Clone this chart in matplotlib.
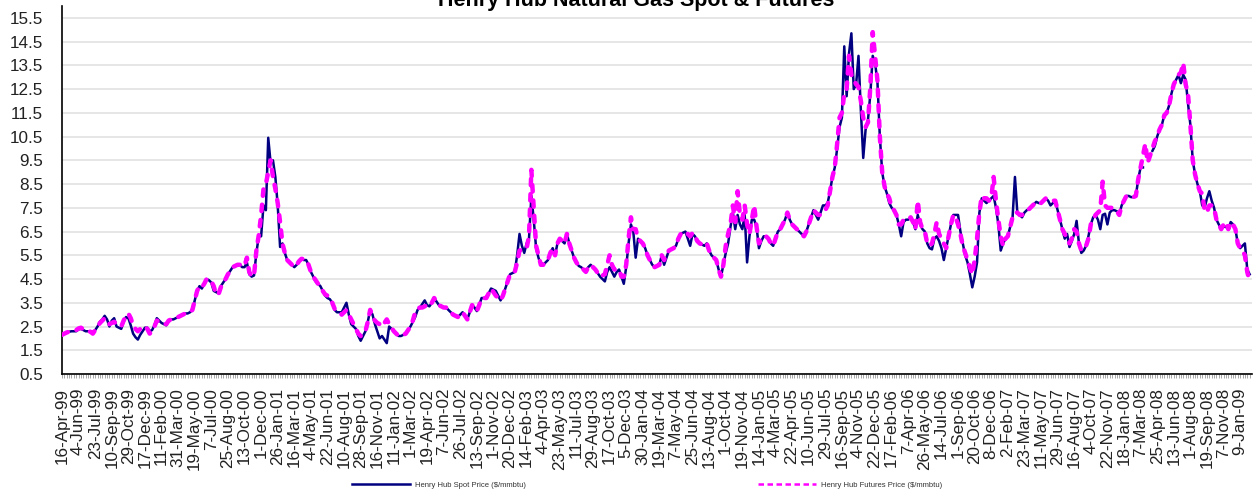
import numpy as np
import matplotlib
matplotlib.use('Agg')
import matplotlib.pyplot as plt
from matplotlib.lines import Line2D

plt.rcParams['font.family'] = ['Liberation Sans', 'DejaVu Sans']

# category labels, one shown every 7 weeks
week_labels = ['16-Apr-99', '4-Jun-99', '23-Jul-99', '10-Sep-99', '29-Oct-99', '17-Dec-99',
               '11-Feb-00', '31-Mar-00', '19-May-00', '7-Jul-00', '25-Aug-00', '13-Oct-00', '1-Dec-00',
               '26-Jan-01', '16-Mar-01', '4-May-01', '22-Jun-01', '10-Aug-01', '28-Sep-01', '16-Nov-01',
               '11-Jan-02', '1-Mar-02', '19-Apr-02', '7-Jun-02', '26-Jul-02', '13-Sep-02', '1-Nov-02', '20-Dec-02',
               '14-Feb-03', '4-Apr-03', '23-May-03', '11-Jul-03', '29-Aug-03', '17-Oct-03', '5-Dec-03',
               '30-Jan-04', '19-Mar-04', '7-May-04', '25-Jun-04', '13-Aug-04', '1-Oct-04', '19-Nov-04',
               '14-Jan-05', '4-Mar-05', '22-Apr-05', '10-Jun-05', '29-Jul-05', '16-Sep-05', '4-Nov-05', '22-Dec-05',
               '17-Feb-06', '7-Apr-06', '26-May-06', '14-Jul-06', '1-Sep-06', '20-Oct-06', '8-Dec-06',
               '2-Feb-07', '23-Mar-07', '11-May-07', '29-Jun-07', '16-Aug-07', '4-Oct-07', '22-Nov-07',
               '18-Jan-08', '7-Mar-08', '25-Apr-08', '13-Jun-08', '1-Aug-08', '19-Sep-08', '7-Nov-08',
               '9-Jan-09']
label_step = 7

# weekly Henry Hub spot price ($/mmbtu), one row per labelled 7-week block
spot = [
    2.15, 2.2, 2.25, 2.28, 2.3, 2.3, 2.3,
    2.38, 2.4, 2.35, 2.3, 2.3, 2.3, 2.22,
    2.35, 2.5, 2.7, 2.8, 2.95, 2.8, 2.5,
    2.75, 2.85, 2.5, 2.45, 2.4, 2.7, 2.9,
    2.85, 2.55, 2.2, 2.05, 1.95, 2.15, 2.3,
    2.45, 2.45, 2.3, 2.35, 2.55, 2.85, 2.75,
    2.65, 2.6, 2.55, 2.75, 2.8, 2.8, 2.85,
    2.9, 2.95, 3.0, 3.05, 3.05, 3.1, 3.2,
    3.6, 4.0, 4.2, 4.1, 4.3, 4.5, 4.45,
    4.35, 4.0, 3.95, 3.9, 4.2, 4.35, 4.5,
    4.7, 4.85, 5.0, 5.05, 5.1, 5.1, 5.0,
    5.0, 5.2, 4.7, 4.6, 4.65, 5.6, 6.3,
    6.3, 7.6, 7.4, 10.45, 9.4, 9.5, 8.8,
    7.6, 5.85, 6.0, 5.6, 5.3, 5.2, 5.1,
    5.0, 5.1, 5.25, 5.35, 5.3, 5.3, 5.1,
    4.8, 4.6, 4.4, 4.3, 4.2, 4.0, 3.8,
    3.7, 3.65, 3.5, 3.2, 3.1, 3.1, 3.1,
    3.3, 3.5, 3.0, 2.6, 2.5, 2.4, 2.1,
    1.9, 2.1, 2.3, 2.7, 3.2, 3.0, 2.6,
    2.3, 2.0, 2.1, 1.95, 1.8, 2.5, 2.4,
    2.3, 2.2, 2.1, 2.1, 2.15, 2.2, 2.35,
    2.5, 2.7, 2.9, 3.2, 3.3, 3.45, 3.6,
    3.4, 3.35, 3.5, 3.7, 3.55, 3.4, 3.35,
    3.3, 3.3, 3.2, 3.1, 3.0, 2.95, 2.9,
    3.0, 3.1, 2.95, 2.8, 3.1, 3.4, 3.3,
    3.15, 3.4, 3.7, 3.7, 3.7, 3.9, 4.1,
    4.05, 4.0, 3.8, 3.6, 3.8, 4.1, 4.4,
    4.7, 4.75, 4.8, 5.5, 6.4, 5.9, 5.6,
    6.0, 6.2, 8.0, 7.0, 5.8, 5.4, 5.1,
    5.1, 5.2, 5.3, 5.6, 5.8, 5.5, 6.0,
    6.2, 6.1, 6.0, 6.4, 6.0, 5.7, 5.4,
    5.2, 5.05, 5.0, 4.9, 4.8, 5.0, 5.1,
    5.0, 4.9, 4.75, 4.6, 4.5, 4.4, 4.8,
    5.0, 4.8, 4.6, 4.8, 4.9, 4.6, 4.3,
    5.0, 6.0, 6.8, 6.5, 5.4, 6.2, 6.1,
    6.0, 5.8, 5.5, 5.3, 5.1, 5.0, 5.05,
    5.1, 5.5, 5.1, 5.4, 5.7, 5.75, 5.8,
    5.9, 6.2, 6.4, 6.45, 6.5, 6.2, 5.9,
    6.4, 6.3, 6.1, 6.0, 5.95, 5.9, 6.0,
    5.7, 5.5, 5.4, 5.3, 4.9, 4.6, 5.1,
    5.6, 6.0, 6.7, 7.3, 6.6, 7.2, 6.8,
    6.6, 7.2, 5.2, 6.3, 7.0, 7.0, 6.7,
    5.8, 6.1, 6.3, 6.3, 6.2, 6.0, 5.9,
    6.2, 6.5, 6.6, 6.8, 7.0, 7.3, 7.0,
    6.8, 6.7, 6.6, 6.5, 6.4, 6.3, 6.5,
    6.8, 7.1, 7.4, 7.2, 7.0, 7.3, 7.6,
    7.6, 7.7, 8.2, 8.8, 9.2, 10.0, 10.9,
    11.3, 14.3, 12.2, 14.0, 14.85, 12.5, 12.7,
    13.9, 11.6, 9.6, 10.8, 11.2, 12.3, 13.9,
    13.6, 12.8, 10.5, 9.0, 8.4, 8.1, 7.7,
    7.5, 7.4, 7.2, 6.8, 6.3, 6.9, 7.0,
    7.0, 7.1, 6.9, 6.6, 7.2, 6.8, 6.6,
    6.5, 6.0, 5.8, 5.75, 6.2, 6.3, 6.1,
    5.8, 5.3, 5.8, 6.3, 6.8, 7.2, 7.2,
    7.2, 6.5, 6.0, 5.5, 5.2, 4.7, 4.15,
    4.6, 5.2, 7.3, 7.9, 7.8, 7.7, 7.8,
    7.9, 8.0, 7.5, 6.8, 5.7, 6.0, 6.2,
    6.3, 6.7, 7.1, 8.8, 7.3, 7.2, 7.1,
    7.3, 7.4, 7.45, 7.55, 7.65, 7.75, 7.7,
    7.7, 7.8, 7.9, 7.8, 7.6, 7.7, 7.8,
    7.4, 7.0, 6.6, 6.2, 6.4, 5.85, 6.1,
    6.4, 6.95, 6.0, 5.6, 5.7, 5.9, 6.3,
    6.8, 7.1, 7.2, 7.0, 6.6, 7.2, 7.25,
    6.8, 7.3, 7.4, 7.4, 7.35, 7.2, 7.6,
    7.8, 8.0, 8.0, 7.95, 7.95, 8.0, 8.7,
    9.2, 9.2, np.nan, 8.56, np.nan, 9.9, 10.1,
    10.5, 10.8, 11.0, 11.4, 11.5, 11.8, 12.3,
    12.7, 12.9, 13.1, 12.75, 13.1, 12.9, 11.9,
    11.0, 9.5, 8.9, 8.5, 8.2, 7.6, 7.5,
    7.9, 8.2, 7.8, 7.5, 7.0, 6.8, 6.6,
    6.7, 6.7, 6.6, 6.9, 6.8, 6.6, 6.0,
    5.8, 5.9, 6.0, 4.9, 4.7,
]

# weekly Henry Hub futures price ($/mmbtu)
futures = [
    2.15, 2.2, 2.25, 2.28, 2.3, 2.32, 2.35,
    2.42, 2.45, 2.38, 2.3, 2.3, 2.28, 2.2,
    2.35, 2.5, 2.65, 2.75, 2.85, 2.75, 2.6,
    2.65, 2.7, 2.6, 2.55, 2.5, 2.75, 2.95,
    3.05, 2.85, 2.55, 2.4, 2.3, 2.4, 2.5,
    2.5, 2.4, 2.2, 2.3, 2.5, 2.75, 2.7,
    2.65, 2.6, 2.6, 2.75, 2.8, 2.82, 2.85,
    2.9, 2.95, 3.0, 3.05, 3.08, 3.1, 3.2,
    3.6, 4.0, 4.2, 4.15, 4.3, 4.5, 4.5,
    4.4, 4.2, 3.85, 3.85, 4.15, 4.35, 4.5,
    4.7, 4.85, 5.0, 5.05, 5.1, 5.1, 5.05,
    5.05, 5.4, 4.8, 4.6, 4.65, 5.7, 6.35,
    7.2, 8.3, 8.5, 9.0, 9.5, 8.8, 8.3,
    7.7, 6.9, 6.0, 5.6, 5.3, 5.2, 5.1,
    5.0, 5.1, 5.25, 5.35, 5.35, 5.3, 5.1,
    4.8, 4.6, 4.45, 4.3, 4.2, 4.0, 3.85,
    3.8, 3.65, 3.5, 3.25, 3.2, 3.1, 3.0,
    3.1, 3.2, 3.0, 2.8, 2.6, 2.4, 2.2,
    2.1, 2.2, 2.3, 2.7, 3.2, 2.9, 2.75,
    2.65, 2.6, 2.5, 2.65, 2.8, 2.6, 2.45,
    2.3, 2.2, 2.1, 2.1, 2.15, 2.2, 2.35,
    2.5, 2.75, 3.1, 3.25, 3.3, 3.3, 3.35,
    3.4, 3.35, 3.5, 3.7, 3.55, 3.4, 3.35,
    3.3, 3.3, 3.2, 3.1, 3.0, 2.95, 2.9,
    3.0, 3.1, 2.95, 2.8, 3.1, 3.4, 3.3,
    3.15, 3.4, 3.7, 3.7, 3.7, 3.9, 4.1,
    3.95, 3.8, 3.7, 3.6, 3.8, 4.1, 4.4,
    4.7, 4.75, 4.8, 5.2, 5.7, 5.75, 5.8,
    5.8, 6.3, 9.1, 7.5, 5.9, 5.5, 5.1,
    5.1, 5.2, 5.3, 5.6, 5.8, 5.5, 6.0,
    6.2, 6.1, 6.0, 6.4, 6.0, 5.7, 5.4,
    5.2, 5.05, 5.0, 4.9, 4.8, 5.0, 5.1,
    5.0, 4.9, 4.75, 4.6, 4.65, 4.7, 5.1,
    5.5, 5.1, 4.9, 4.9, 4.9, 4.6, 4.6,
    5.1, 6.2, 7.1, 6.6, 6.6, 6.2, 6.1,
    6.0, 5.8, 5.5, 5.3, 5.1, 5.0, 5.05,
    5.1, 5.5, 5.3, 5.5, 5.7, 5.75, 5.8,
    5.9, 6.2, 6.4, 6.45, 6.5, 6.4, 6.3,
    6.45, 6.3, 6.1, 6.0, 5.95, 5.9, 6.0,
    5.7, 5.5, 5.4, 5.3, 4.9, 4.6, 5.1,
    5.9, 6.4, 6.8, 7.6, 6.9, 8.2, 7.2,
    7.0, 7.6, 6.8, 6.4, 7.0, 7.6, 6.7,
    6.0, 6.2, 6.3, 6.3, 6.2, 6.0, 5.9,
    6.2, 6.5, 6.6, 6.8, 7.0, 7.3, 7.0,
    6.8, 6.7, 6.6, 6.5, 6.4, 6.3, 6.5,
    6.8, 7.1, 7.4, 7.3, 7.2, 7.2, 7.3,
    7.4, 7.6, 8.2, 8.8, 9.2, 10.2, 11.3,
    11.5, 12.3, 12.5, 13.9, 13.1, 12.9, 12.7,
    12.6, 12.0, 11.3, 10.9, 11.1, 12.6, 14.9,
    13.9, 12.85, 10.5, 9.0, 8.4, 8.1, 7.9,
    7.5, 7.4, 7.2, 6.8, 6.8, 7.0, 7.0,
    7.0, 7.1, 6.9, 6.6, 7.8, 6.9, 6.6,
    6.5, 6.0, 5.9, 6.0, 6.4, 6.9, 6.4,
    6.2, 6.0, 5.8, 6.3, 6.8, 7.2, 7.1,
    6.8, 6.4, 5.9, 5.6, 5.3, 5.0, 4.7,
    5.3, 6.2, 7.3, 8.0, 7.9, 7.9, 7.8,
    7.9, 8.8, 7.8, 7.0, 6.3, 5.9, 6.2,
    6.3, 6.7, 7.1, 7.3, 7.3, 7.2, 7.2,
    7.3, 7.4, 7.45, 7.55, 7.65, 7.75, 7.75,
    7.7, 7.8, 7.9, 7.85, 7.8, 7.8, 7.8,
    7.4, 7.0, 6.6, 6.4, 6.2, 6.0, 6.2,
    6.6, 6.5, 6.0, 5.7, 5.8, 5.9, 6.2,
    6.8, 7.0, 7.2, 7.3, 7.4, 8.6, 7.6,
    7.5, 7.5, 7.5, 7.4, 7.35, 7.2, 7.6,
    7.8, 8.0, 8.0, 7.95, 7.95, 8.0, 8.7,
    9.2, 9.7, 10.2, 9.4, 9.7, 10.0, 10.3,
    10.5, 10.8, 11.0, 11.4, 11.5, 11.8, 12.3,
    12.7, 12.9, 13.1, 13.2, 13.6, 12.7, 12.3,
    11.0, 9.5, 8.9, 8.5, 8.2, 8.1, 7.4,
    7.3, 7.6, 7.6, 7.5, 7.0, 6.8, 6.6,
    6.8, 6.9, 6.6, 6.9, 6.8, 6.6, 6.0,
    5.8, 5.7, 5.5, 4.8, 4.4,
]

spot_name = 'Henry Hub Spot Price ($/mmbtu)'
fut_name = 'Henry Hub Futures Price ($/mmbtu)'
spot_color = '#000080'
fut_color = '#FF00FF'

x = np.arange(len(spot))

fig = plt.figure(figsize=(12.54, 4.91), dpi=100)
ax = fig.add_axes([62 / 1254, 1 - 374 / 491, 1190 / 1254, 368 / 491])

ax.plot(x, np.array(spot, dtype=float), color=spot_color, lw=1.8, zorder=3)
# dash pattern is scaled by the line width
ax.plot(x, np.array(futures, dtype=float), color=fut_color, lw=3.2,
        dashes=(1.45, 2.0), dash_capstyle='round', zorder=4)

ax.set_xlim(0, len(spot))
ax.set_ylim(0.5, 16)
ax.set_yticks(np.arange(0.5, 16, 1.0))
ax.set_yticklabels(['%.1f' % v for v in np.arange(0.5, 16, 1.0)])
ax.yaxis.grid(True, color='#e2e2e2', lw=1.2)
ax.set_axisbelow(True)

ax.set_xticks(np.arange(len(week_labels)) * label_step)
ax.set_xticklabels(week_labels, rotation=90, va='top', ha='center')
ax.set_xticks(x, minor=True)

for s in ['top', 'right']:
    ax.spines[s].set_visible(False)
ax.spines['left'].set_linewidth(1.2)
ax.spines['bottom'].set_linewidth(1.2)

ax.tick_params(axis='y', length=0, pad=13.5, labelsize=12.3, labelcolor='#222222')
ax.tick_params(axis='x', which='both', length=3, width=0.6, color='#9a9a9a',
               pad=7, labelsize=12.3, labelcolor='#222222')

fig.text(0.507, 1 - 6 / 491, 'Henry Hub Natural Gas Spot & Futures',
         ha='center', va='baseline', fontsize=15.5, fontweight='bold')

h1 = Line2D([], [], color=spot_color, lw=1.8)
h2 = Line2D([], [], color=fut_color, lw=1.8, dashes=(2.2, 1.4))
leg_kw = dict(frameon=False, fontsize=5.5, handlelength=7.6, handletextpad=0.7,
              borderpad=0, borderaxespad=0, loc='center left', labelcolor='#333333')
fig.legend([h1], [spot_name], bbox_to_anchor=(352 / 1254, 1 - 485 / 491), **leg_kw)
fig.legend([h2], [fut_name], bbox_to_anchor=(758 / 1254, 1 - 485 / 491), **leg_kw)

fig.savefig('out.png', dpi=100)
